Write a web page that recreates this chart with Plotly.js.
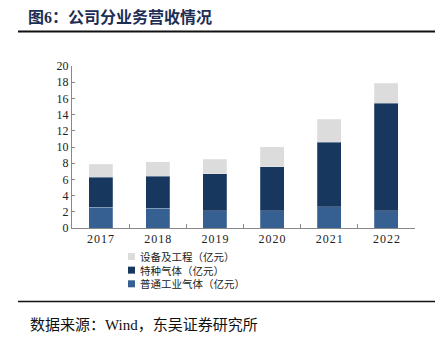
<!DOCTYPE html>
<html>
<head>
<meta charset="utf-8">
<script src="https://cdn.plot.ly/plotly-3.0.1.min.js"></script>
<style>html,body{margin:0;padding:0;background:#fff;}#chart{width:443px;height:340px;}</style>
</head>
<body>
<div id="chart"></div>
<script>
const years = ['2017', '2018', '2019', '2020', '2021', '2022'];
const normalGas = [2.55, 2.45, 2.15, 2.15, 2.6, 2.15];
const specialGas = [3.72, 3.95, 4.55, 5.43, 7.98, 13.25];
const equipment = [1.63, 1.8, 1.76, 2.46, 2.86, 2.46];
const seriesNames = ['普通工业气体（亿元）', '特种气体（亿元）', '设备及工程（亿元）'];
const yTicks = [0, 2, 4, 6, 8, 10, 12, 14, 16, 18, 20];

const W = 443, H = 340;
const M = {l: 72, r: 28, t: 66, b: 112};
const pw = W - M.l - M.r, ph = H - M.t - M.b;
const px = x => (x - M.l) / pw;
const py = y => (H - M.b - y) / ph;

const serif = 'Liberation Serif, Times New Roman, Noto Sans CJK SC, serif';
const cjk = 'Noto Sans CJK SC, sans-serif';
const colors = ['#376092', '#17375e', '#dcdcdc'];
const vals = [normalGas, specialGas, equipment];

const traces = vals.map((v, i) => ({
  type: 'bar', x: years, y: v, name: seriesNames[i],
  marker: {color: colors[i], line: {color: 'rgba(255,255,255,0.35)', width: 0.6}},
  hoverinfo: 'skip', showlegend: false
}));

// custom legend (top entry = last series)
const legendFont = 10.5;
const lineH = legendFont * 1.3;
const legendTop = 256.5;
const shapes = [
  {type: 'line', xref: 'paper', yref: 'paper', x0: px(18), x1: px(435), y0: py(31.5), y1: py(31.5), line: {color: '#111', width: 2}},
  {type: 'line', xref: 'paper', yref: 'paper', x0: px(18), x1: px(435), y0: py(301.5), y1: py(301.5), line: {color: '#111', width: 1.5}}
];
const legendLines = [];
for (let k = 0; k < seriesNames.length; k++) {
  const i = seriesNames.length - 1 - k;
  const yc = legendTop + k * lineH;
  shapes.push({type: 'rect', xref: 'paper', yref: 'paper', x0: px(128), x1: px(135), y0: py(yc - 3.5), y1: py(yc + 3.5),
    fillcolor: colors[i], line: {width: 0}});
  legendLines.push(seriesNames[i]);
}
const annotations = [
  {xref: 'paper', yref: 'paper', x: px(28), y: py(325), xanchor: 'left', yanchor: 'middle', showarrow: false,
   text: '数据来源：Wind，东吴证券研究所', font: {family: serif, size: 15, color: '#111'}},
  {xref: 'paper', yref: 'paper', x: px(139), y: py(legendTop + lineH), xanchor: 'left', yanchor: 'middle', showarrow: false,
   align: 'left', borderpad: 0, text: legendLines.join('<br>'), font: {family: cjk, size: legendFont, color: '#222'}}
];

const layout = {
  width: W, height: H,
  margin: M,
  paper_bgcolor: '#fff', plot_bgcolor: '#fff',
  barmode: 'stack', bargap: 0.58,
  showlegend: false,
  xaxis: {
    type: 'category', tickvals: years,
    ticktext: years.map(s => s.split('').join('\u200A')),
    showline: true, linecolor: '#888', linewidth: 1,
    ticks: 'inside', tickson: 'boundaries', ticklen: 4, tickcolor: '#888',
    tickfont: {family: serif, size: 12, color: '#222'},
    showgrid: false, zeroline: false
  },
  yaxis: {
    range: [0, 20], tickvals: yTicks, ticktext: yTicks.map(String),
    showline: true, linecolor: '#888', linewidth: 1,
    ticks: 'inside', ticklen: 3, tickcolor: '#888',
    tickfont: {family: serif, size: 12, color: '#222'},
    showgrid: false, zeroline: false
  },
  title: {
    text: '<b>图6：公司分业务营收情况</b>',
    xref: 'container', yref: 'container',
    x: 28 / W, y: 1 - 17 / H, xanchor: 'left', yanchor: 'middle',
    font: {family: 'Liberation Serif, Noto Sans CJK SC, serif', size: 16, color: '#1c2e54'}
  },
  shapes: shapes,
  annotations: annotations
};

Plotly.newPlot('chart', traces, layout, {staticPlot: true, displayModeBar: false});
</script>
</body>
</html>
